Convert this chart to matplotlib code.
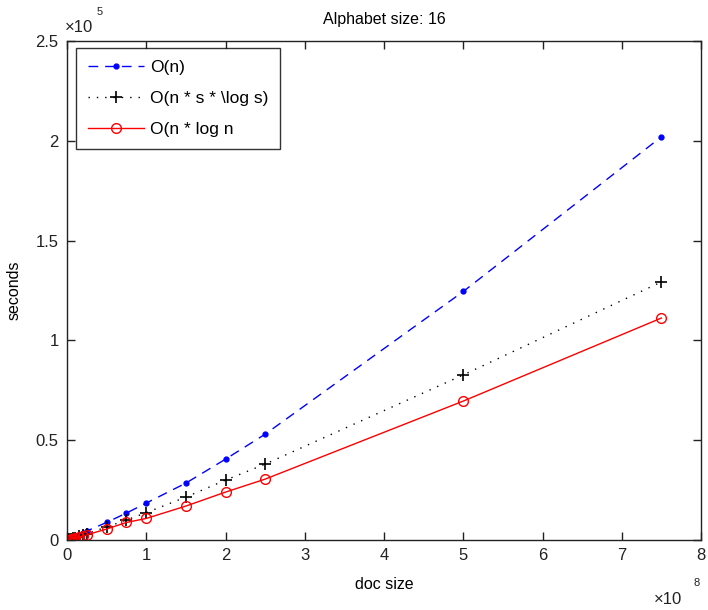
import matplotlib
matplotlib.use("Agg")
import matplotlib.pyplot as plt
from matplotlib.ticker import FuncFormatter

plt.rcParams['font.family'] = ['Liberation Sans', 'DejaVu Sans']

# doc sizes (x 1e8 scale is applied to axis labels)
doc_size = [1e6, 2.5e6, 5e6, 7.5e6, 1e7, 1.5e7, 2e7, 2.5e7, 5e7, 7.5e7,
            1e8, 1.5e8, 2e8, 2.5e8, 5e8, 7.5e8]
# seconds (in units of 1e5 seconds)
o_n = [0.0015, 0.004, 0.008, 0.012, 0.016, 0.025, 0.033, 0.045, 0.088, 0.135,
       0.185, 0.285, 0.405, 0.53, 1.245, 2.02]
o_nslogs = [0.0012, 0.003, 0.006, 0.009, 0.012, 0.019, 0.025, 0.032, 0.065, 0.10,
            0.137, 0.215, 0.30, 0.38, 0.827, 1.293]
o_nlogn = [0.001, 0.0025, 0.005, 0.0075, 0.01, 0.015, 0.02, 0.026, 0.055, 0.088,
           0.108, 0.17, 0.24, 0.305, 0.696, 1.112]
labels = ['O(n)', 'O(n * s * \\log s)', 'O(n * log n']

x_ticks = [0, 1e8, 2e8, 3e8, 4e8, 5e8, 6e8, 7e8, 8e8]
y_ticks = [0, 0.5e5, 1e5, 1.5e5, 2e5, 2.5e5]

fig = plt.figure(figsize=(7.08, 6.10), dpi=100)
ax = fig.add_axes([67/708, 70/610, (701-67)/708, (540-41)/610])

ys1 = [v * 1e5 for v in o_n]
ys2 = [v * 1e5 for v in o_nslogs]
ys3 = [v * 1e5 for v in o_nlogn]

ax.plot(doc_size, ys1, color='blue', linestyle=(0, (7, 5)), linewidth=1.0,
        marker='.', markersize=7, label=labels[0])
ax.plot(doc_size, ys2, color='black', linestyle=(0, (1, 5)), linewidth=1.0,
        marker='+', markersize=9, markeredgewidth=1.2, label=labels[1])
ax.plot(doc_size, ys3, color='red', linestyle='-', linewidth=1.0,
        marker='o', markersize=7, markerfacecolor='none', markeredgewidth=1.0,
        label=labels[2])

ax.set_xlim(0, 8e8)
ax.set_ylim(0, 2.5e5)
ax.set_xticks(x_ticks)
ax.set_yticks(y_ticks)
ax.xaxis.set_major_formatter(FuncFormatter(lambda v, p: '%g' % (v / 1e8)))
ax.yaxis.set_major_formatter(FuncFormatter(lambda v, p: '%g' % (v / 1e5)))
ax.tick_params(direction='in', top=True, right=True, length=6, width=1,
               labelsize=12, colors='#222222', labelcolor='#222222', pad=6)
for s in ax.spines.values():
    s.set_linewidth(1.0)
    s.set_color('#222222')

ax.set_xlabel('doc size', fontsize=11.5, labelpad=10)
ax.set_ylabel('seconds', fontsize=11.5, labelpad=10)
ax.set_title('Alphabet size: 16', fontsize=11.5, pad=12)

fig.text(65/708, 1 - 28/610, '×10', fontsize=12, ha='left', va='center', color='#222222')
fig.text(97/708, 1 - 12/610, '5', fontsize=8, ha='left', va='center', color='#222222')
fig.text(654/708, 1 - 599/610, '×10', fontsize=12, ha='left', va='center', color='#222222')
fig.text(693/708, 1 - 583/610, '8', fontsize=8, ha='left', va='center', color='#222222')

leg = ax.legend(loc='upper left', bbox_to_anchor=(9/634, 1 - 7/499), borderaxespad=0,
                fontsize=12.5, frameon=True, fancybox=False, edgecolor='black',
                handlelength=3.2, borderpad=0.7, labelspacing=0.9, handletextpad=0.35)
leg.get_frame().set_linewidth(1.0)

fig.savefig('out.png', dpi=100)
